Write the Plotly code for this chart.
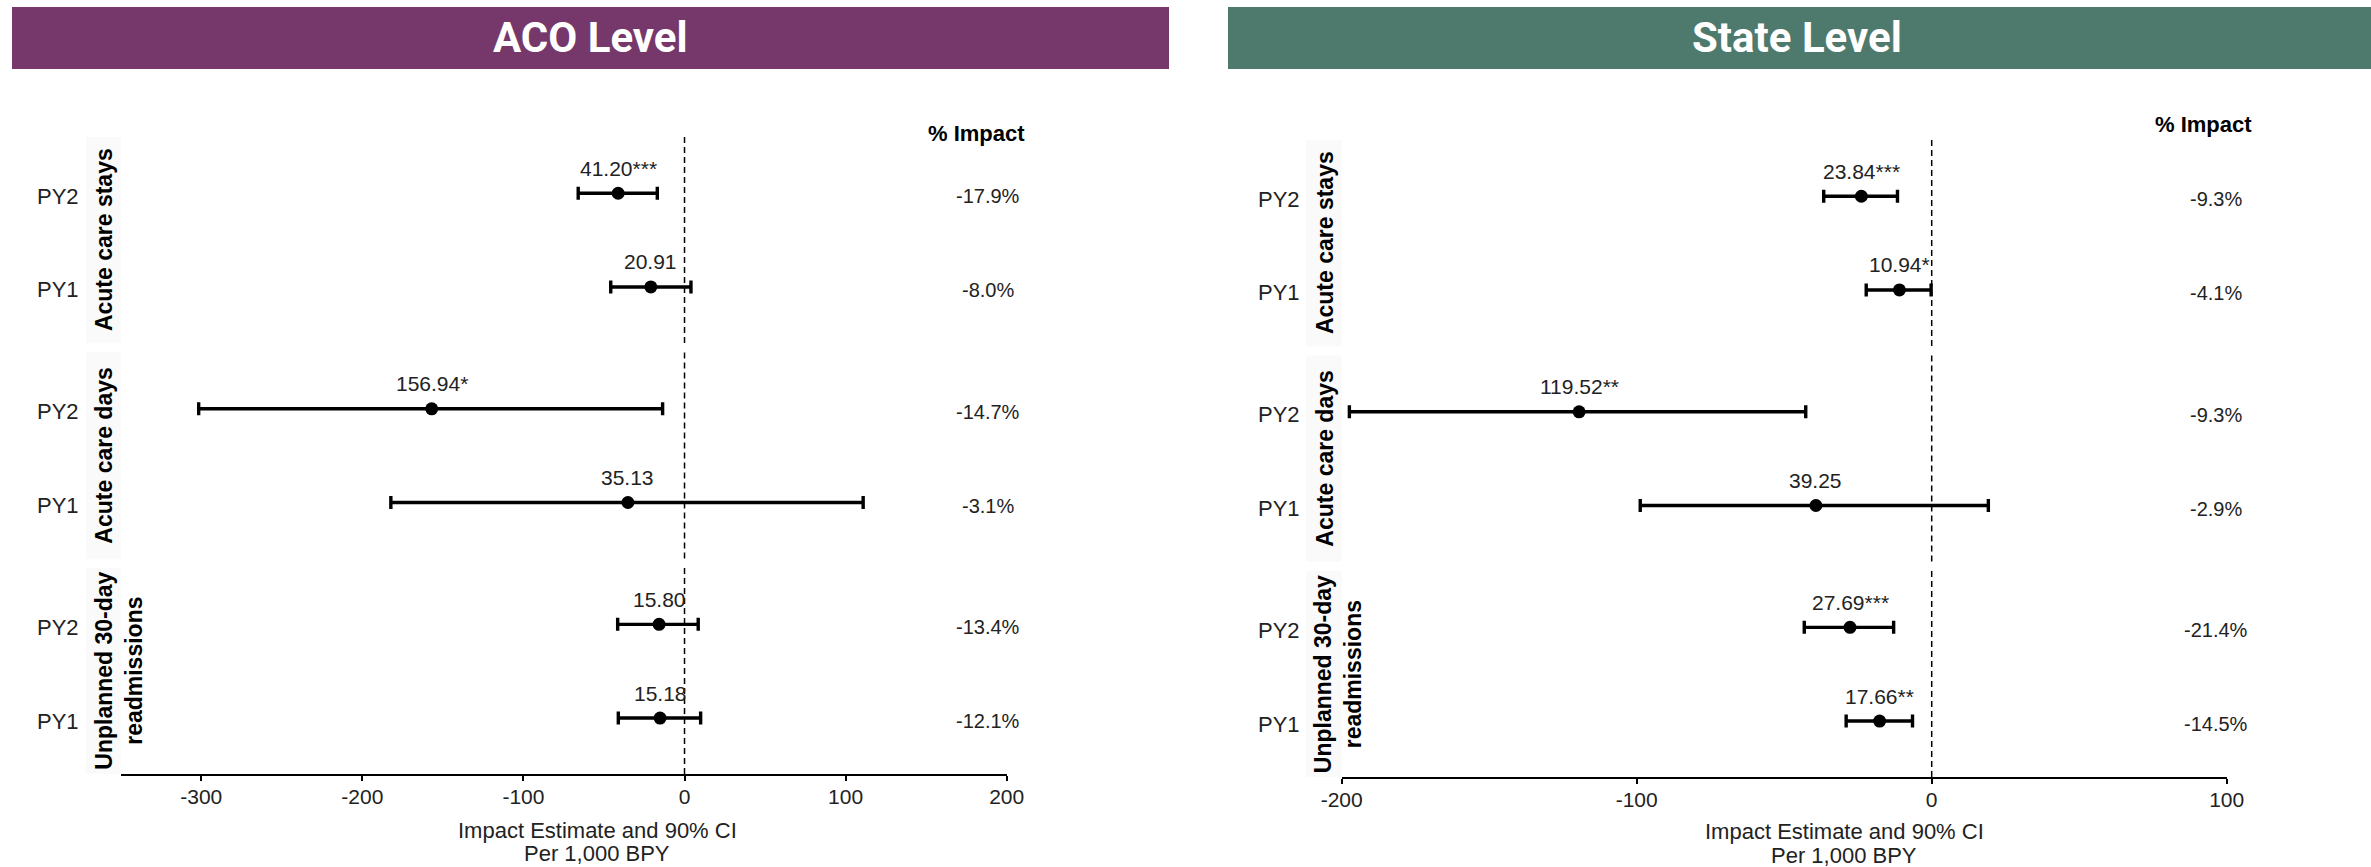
import plotly.graph_objects as go

W, H = 2371, 867

# ---------------- data ----------------
groups = ["Acute care stays", "Acute care days", "Unplanned 30-day<br>readmissions"]
years = ["PY2", "PY1"]

aco_est = [-41.20, -20.91, -156.94, -35.13, -15.80, -15.18]
aco_lo = [-66.0, -45.8, -301.6, -182.3, -41.5, -41.1]
aco_hi = [-16.9, 4.0, -13.6, 110.9, 8.5, 10.0]
aco_labels = ["41.20***", "20.91", "156.94*", "35.13", "15.80", "15.18"]
aco_pct = ["-17.9%", "-8.0%", "-14.7%", "-3.1%", "-13.4%", "-12.1%"]

state_est = [-23.84, -10.94, -119.52, -39.25, -27.69, -17.66]
state_lo = [-36.6, -22.2, -197.4, -98.8, -43.2, -29.0]
state_hi = [-11.6, -0.2, -42.7, 19.2, -12.9, -6.5]
state_labels = ["23.84***", "10.94*", "119.52**", "39.25", "27.69***", "17.66**"]
state_pct = ["-9.3%", "-4.1%", "-9.3%", "-2.9%", "-21.4%", "-14.5%"]

aco_ticks = [-300, -200, -100, 0, 100, 200]
aco_ticktext = ["-300", "-200", "-100", "0", "100", "200"]
state_ticks = [-200, -100, 0, 100]
state_ticktext = ["-200", "-100", "0", "100"]

# ---------------- layout helpers ----------------
FONT = "Liberation Sans, Arial, sans-serif"
GAP = 2.3
pos = [g * GAP + j for g in range(len(groups)) for j in range(len(years))]
ylabels = [years[j] for g in range(len(groups)) for j in range(len(years))]


def px(x):
    return x / W


def py(y):
    return 1 - y / H


panels = [
    dict(name="ACO Level", color="#76376A", est=aco_est, lo=aco_lo, hi=aco_hi,
         labels=aco_labels, pct=aco_pct, ticks=aco_ticks, ticktext=aco_ticktext,
         rng=[-350, 200],
         xl=120.7, xr=1006.7, yt=137, yb=774.3,
         ban=(12, 1169), ban_c=590.5, pylab=81, strip=(86, 120.7),
         strip_c=104, strip_c2=119.5, pct_x=987.5, head=(976.7, 133),
         title_x=597, title_y=(830, 853)),
    dict(name="State Level", color="#4E7A6D", est=state_est, lo=state_lo, hi=state_hi,
         labels=state_labels, pct=state_pct, ticks=state_ticks, ticktext=state_ticktext,
         rng=[-200, 100],
         xl=1341.7, xr=2226.7, yt=140, yb=777.3,
         ban=(1228, 2371), ban_c=1797, pylab=1302, strip=(1306, 1341.7),
         strip_c=1325, strip_c2=1338, pct_x=2215.5, head=(2203, 124),
         title_x=1844, title_y=(831.7, 855)),
]

fig = go.Figure()
shapes, annotations = [], []

for i, p in enumerate(panels):
    sfx = "" if i == 0 else str(i + 1)
    xa, ya = "x" + sfx, "y" + sfx

    fig.add_trace(go.Scatter(
        x=p["est"], y=pos, mode="markers",
        marker=dict(size=13, color="black"),
        error_x=dict(type="data", symmetric=False,
                     array=[h - e for h, e in zip(p["hi"], p["est"])],
                     arrayminus=[e - l for e, l in zip(p["est"], p["lo"])],
                     color="black", thickness=3.4, width=6.5),
        xaxis=xa, yaxis=ya, showlegend=False, hoverinfo="x+y",
    ))

    fig.update_layout(**{
        "xaxis" + sfx: dict(domain=[px(p["xl"]), px(p["xr"])], range=p["rng"],
                            tickmode="array", tickvals=p["ticks"], ticktext=p["ticktext"],
                            showline=True, linecolor="black",
                            linewidth=2, ticks="outside", ticklen=5, tickwidth=1.5,
                            tickcolor="black", showgrid=False, zeroline=False,
                            tickfont=dict(family=FONT, size=21, color="#222"),
                            ticklabelstandoff=-3,
                            anchor=ya, fixedrange=True, automargin=False),
        "yaxis" + sfx: dict(domain=[py(p["yb"]), py(p["yt"])], range=[6.2, -0.6],
                            showticklabels=False, showgrid=False, zeroline=False,
                            showline=False, ticks="", anchor=xa, fixedrange=True,
                            automargin=False),
    })

    # banner
    shapes.append(dict(type="rect", xref="paper", yref="paper",
                       x0=px(p["ban"][0]), x1=px(p["ban"][1]), y0=py(69), y1=py(7),
                       fillcolor=p["color"], line=dict(width=0), layer="below"))
    annotations.append(dict(xref="paper", yref="paper", x=px(p["ban_c"]), y=py(38),
                            text="<b>" + p["name"] + "</b>", showarrow=False,
                            font=dict(family="Roboto, " + FONT, size=42, color="white"),
                            xanchor="center", yanchor="middle"))

    # facet strips + dashed zero lines
    for g, gname in enumerate(groups):
        y0, y1 = g * GAP - 0.6, g * GAP + 1.6
        shapes.append(dict(type="rect", xref="paper", yref=ya,
                           x0=px(p["strip"][0]), x1=px(p["strip"][1]), y0=y0, y1=y1,
                           fillcolor="#FAFAFA", line=dict(width=0), layer="below"))
        shapes.append(dict(type="line", xref=xa, yref=ya, x0=0, x1=0, y0=y0, y1=y1,
                           line=dict(color="black", width=1.5, dash="6px,4px")))
        two = "<br>" in gname
        annotations.append(dict(xref="paper", yref=ya,
                                x=px(p["strip_c2"] if two else p["strip_c"]),
                                y=g * GAP + 0.5, text="<b>" + gname + "</b>",
                                textangle=-90, showarrow=False,
                                font=dict(family=FONT, size=23, color="black"),
                                xanchor="center", yanchor="middle"))

    # row labels, value labels, % impact
    for k in range(len(pos)):
        annotations.append(dict(xref="paper", yref=ya, x=px(p["pylab"]), y=pos[k],
                                yshift=-3, text=ylabels[k], showarrow=False,
                                font=dict(family=FONT, size=22, color="#222"),
                                xanchor="right", yanchor="middle"))
        annotations.append(dict(xref=xa, yref=ya, x=p["est"][k], y=pos[k], yshift=25,
                                text=p["labels"][k], showarrow=False,
                                font=dict(family=FONT, size=21, color="#222"),
                                xanchor="center", yanchor="middle"))
        annotations.append(dict(xref="paper", yref=ya, x=px(p["pct_x"]), y=pos[k],
                                yshift=-3, text=p["pct"][k], showarrow=False,
                                font=dict(family=FONT, size=20, color="#222"),
                                xanchor="center", yanchor="middle"))

    annotations.append(dict(xref="paper", yref="paper", x=px(p["head"][0]),
                            y=py(p["head"][1]), text="<b>% Impact</b>", showarrow=False,
                            font=dict(family=FONT, size=22, color="black"),
                            xanchor="center", yanchor="middle"))
    for line, yy in zip(["Impact Estimate and 90% CI", "Per 1,000 BPY"], p["title_y"]):
        annotations.append(dict(xref="paper", yref="paper", x=px(p["title_x"]),
                                y=py(yy), text=line, showarrow=False,
                                font=dict(family=FONT, size=22, color="#222"),
                                xanchor="center", yanchor="middle"))

fig.update_layout(width=W, height=H,
                  margin=dict(l=0, r=0, t=0, b=0, pad=0, autoexpand=False),
                  paper_bgcolor="white", plot_bgcolor="white",
                  shapes=shapes, annotations=annotations)

fig.write_html("out.html")
